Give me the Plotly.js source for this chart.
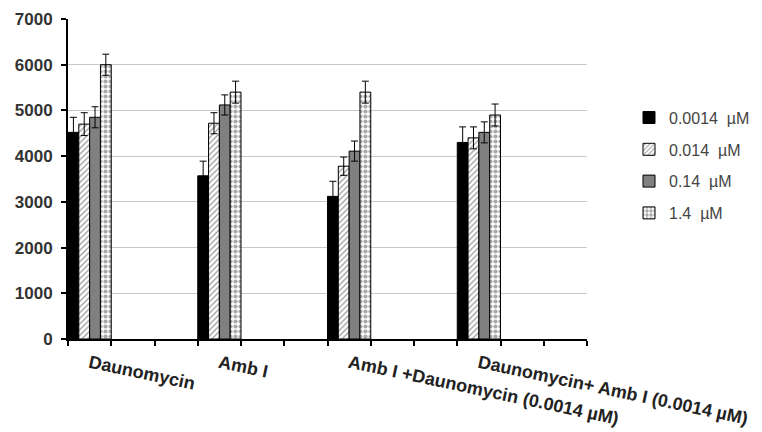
<!DOCTYPE html>
<html>
<head>
<meta charset="utf-8">
<script src="https://cdn.plot.ly/plotly-3.0.1.min.js"></script>
<style>html,body{margin:0;padding:0;background:#fff;}#chart{width:762px;height:432px;}</style>
</head>
<body>
<div id="chart"></div>
<script>
const categories = ["Daunomycin", "Amb I", "Amb I +Daunomycin (0.0014 \u00b5M)", "Daunomycin+ Amb I (0.0014 \u00b5M)"];
const seriesNames = ["0.0014  \u00b5M", "0.014  \u00b5M", "0.14  \u00b5M", "1.4  \u00b5M"];
const s1 = [4520, 3570, 3120, 4300];
const s1err = [330, 320, 330, 340];
const s2 = [4700, 4720, 3780, 4400];
const s2err = [250, 230, 200, 240];
const s3 = [4850, 5120, 4110, 4520];
const s3err = [230, 220, 220, 230];
const s4 = [6000, 5400, 5400, 4900];
const s4err = [230, 240, 240, 240];
const yTicks = [0, 1000, 2000, 3000, 4000, 5000, 6000, 7000];

const values = [s1, s2, s3, s4];
const errs = [s1err, s2err, s3err, s4err];
const slotsPerGroup = 3;
const xPos = categories.map((c, i) => i * slotsPerGroup + 0.5);
const styles = [
  {color: '#000000', pattern: {shape: ''}},
  {color: '#ffffff', pattern: {shape: '/', fgcolor: '#999999', bgcolor: '#ffffff', size: 4, solidity: 0.3}},
  {color: '#808080', pattern: {shape: ''}},
  {color: '#ffffff', pattern: {shape: '.', fgcolor: '#a8a8a8', bgcolor: '#ffffff', size: 5, solidity: 0.55}}
];
const bw = 0.25;
const traces = values.map((v, k) => ({
  type: 'bar',
  name: seriesNames[k],
  x: xPos,
  y: v,
  width: bw,
  offset: -0.5 + k * bw,
  legendgroup: 'g' + k,
  marker: {color: styles[k].color, pattern: styles[k].pattern, line: {color: '#000', width: 1}},
  error_y: {type: 'data', array: errs[k], visible: true, color: '#000', thickness: 1, width: 3.5}
}));

const W = 762, ML = 68, MR = 2, plotRight = 587;
const fullW = W - ML - MR;
const layout = {
  width: 762, height: 432,
  margin: {l: ML, r: MR, t: 19, b: 93},
  paper_bgcolor: '#fff', plot_bgcolor: '#fff',
  barmode: 'overlay',
  showlegend: true,
  font: {family: 'Liberation Sans, Arial, sans-serif', color: '#333'},
  legend: {x: (629 - ML) / fullW, y: 0.745, xanchor: 'left', yanchor: 'top', traceorder: 'grouped', tracegroupgap: 8,
           font: {size: 16, color: '#444'}, itemwidth: 30, bgcolor: 'rgba(0,0,0,0)'},
  xaxis: {
    domain: [0, (plotRight - ML) / fullW],
    range: [0, 12], showgrid: false, zeroline: false,
    showline: true, linecolor: '#000', linewidth: 2,
    tickmode: 'array', tickvals: xPos, ticktext: categories,
    ticks: '', tickangle: 12, ticklabelstandoff: 5,
    tickfont: {size: 18, color: '#222', family: 'Liberation Sans, Arial, sans-serif', weight: 'bold'},
    minor: {tick0: 0, dtick: 1, ticks: 'outside', ticklen: 5, tickwidth: 2, tickcolor: '#000', showgrid: false}
  },
  yaxis: {
    range: [0, 7000], tickmode: 'array', tickvals: yTicks,
    showgrid: true, gridcolor: '#c8c8c8', gridwidth: 1, zeroline: false,
    showline: true, linecolor: '#000', linewidth: 2,
    ticks: 'outside', ticklen: 5, tickwidth: 2, tickcolor: '#000', ticklabelstandoff: 5,
    tickfont: {size: 17, color: '#333', family: 'Liberation Sans, Arial, sans-serif', weight: 'bold'}
  }
};
Plotly.newPlot('chart', traces, layout, {displayModeBar: false, staticPlot: true});
</script>
</body>
</html>
